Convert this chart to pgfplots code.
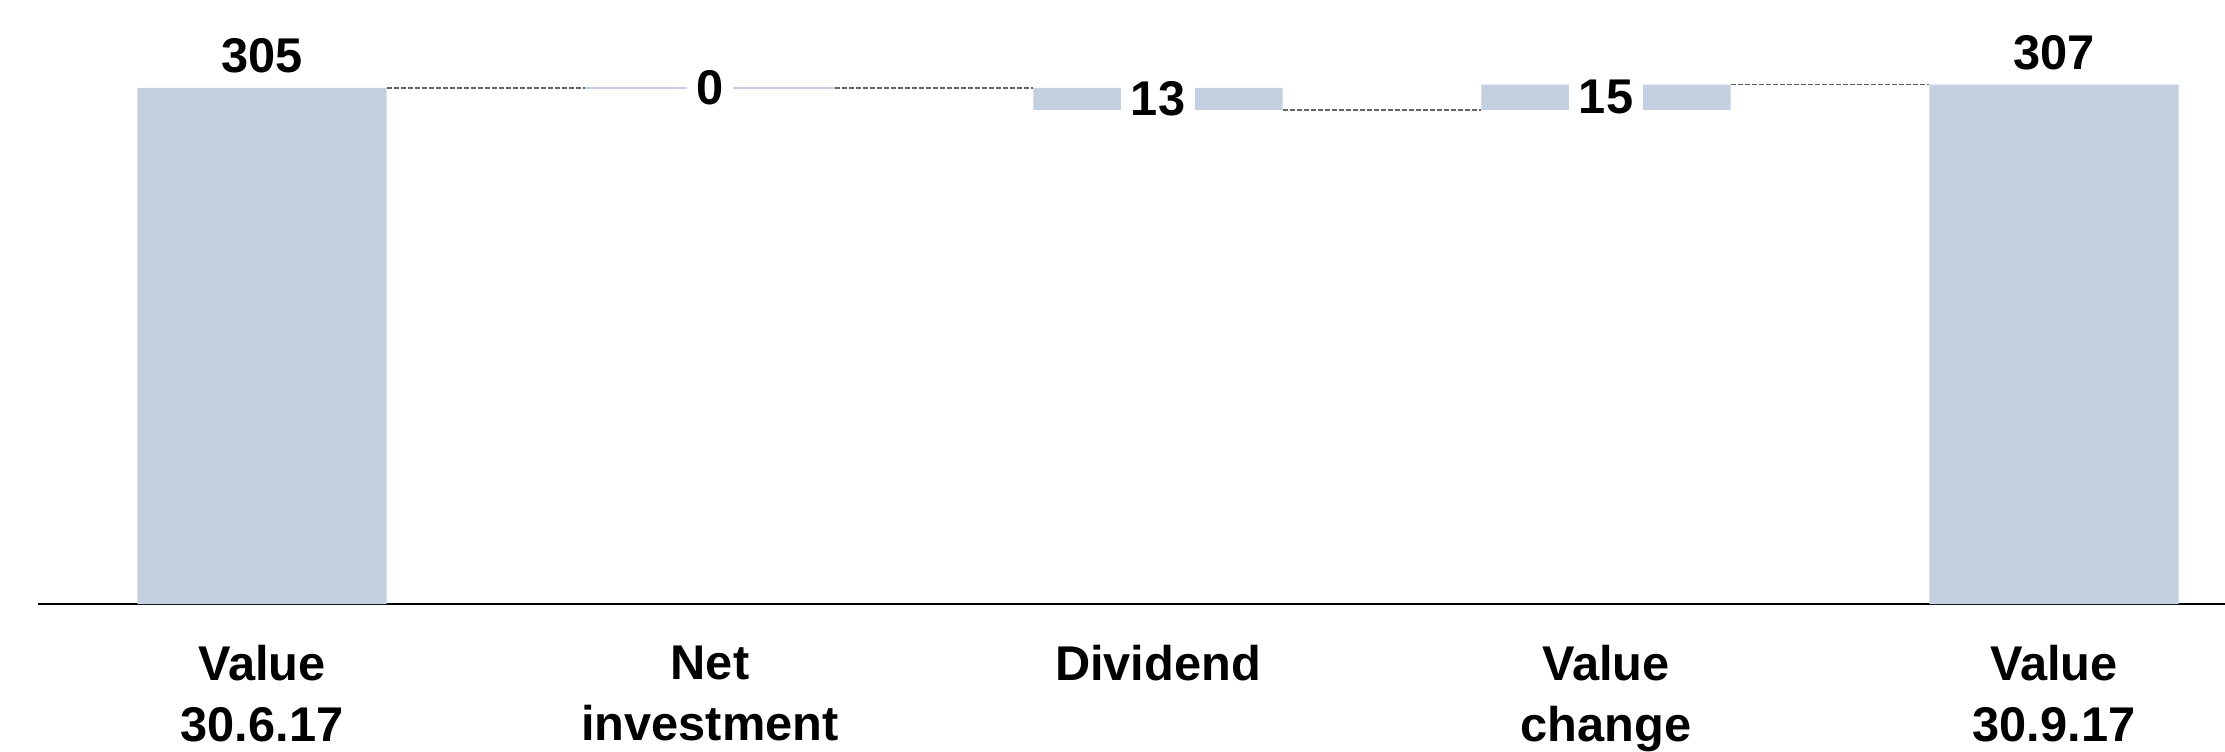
\documentclass[border=0pt]{standalone}
\usepackage{fontspec}
\setmainfont{Liberation Sans}
\usepackage{pgfplots}
\usepackage{pgfplotstable}
\pgfplotsset{compat=1.18}

\definecolor{barblue}{RGB}{196,208,225}
\definecolor{linkgray}{RGB}{100,100,100}

% Value bridge: invisible base + visible step
\pgfplotstableread{
x base delta
0 0   305
1 305 0
2 292 13
3 292 15
4 0   307
}\bridge

% Dashed links between neighbouring bars (running totals)
\pgfplotstableread{
x y
0.278 305
0.722 305
0.722 nan
1.278 305
1.722 305
1.722 nan
2.278 292
2.722 292
2.722 nan
3.278 307
3.722 307
}\links

\newcommand{\lblfont}{\fontsize{19.5}{24.4}\selectfont\bfseries}

\pgfplotsset{
  bridgeframe/.style={
    scale only axis, width=896pt, height=241.6pt,
    xmin=-0.5, xmax=4.5, ymin=0, ymax=357,
    at={(15.2pt,58.8pt)}, anchor=south west,
  },
}

\begin{document}
\begin{tikzpicture}
\begin{axis}[
  bridgeframe,
  ybar stacked, bar width=0.556,
  axis x line=bottom, axis y line=none,
  x axis line style={-, line width=0.8pt, black},
  every outer x axis line/.append style={-},
  xtick={0,1,2,3,4},
  xticklabels={{Value\\30.6.17},{Net\\investment},{Dividend},{Value\\change},{Value\\30.9.17}},
  xticklabel style={align=center, font=\lblfont, inner sep=0pt, anchor=north, yshift=-16.4pt},
  major tick length=0pt,
  ytick=\empty,
]
\addplot[draw=none, fill=none, forget plot] table[x=x, y=base] {\bridge};
\addplot[fill=barblue, draw=none] table[x=x, y=delta] {\bridge};
\end{axis}

\begin{axis}[bridgeframe, hide axis, /pgf/number format/assume math mode=true]
\addplot[linkgray, line width=0.5pt, dash pattern=on 2pt off 0.8pt, unbounded coords=jump] table[x=x, y=y] {\links};
% steps: a bar-wide stroke, so that a zero step still shows
\addplot[draw=none, mark=none, skip coords between index={0}{1}, skip coords between index={4}{5},
  error bars/.cd, x dir=both, x fixed=0.278, error mark=none,
  error bar style={barblue, line width=0.8pt}]
  table[x=x, y expr=\thisrow{base}+0.5*\thisrow{delta}] {\bridge};
% totals: value above the bar
\addplot[draw=none, mark=none, skip coords between index={1}{4},
  nodes near coords, point meta=explicit,
  every node near coord/.append style={anchor=base, inner sep=0pt, yshift=6.1pt, font=\lblfont, text=black}]
  table[x=x, y expr=\thisrow{base}+\thisrow{delta}, meta=delta] {\bridge};
% steps: value centred on the bar, on a white patch
\addplot[draw=none, mark=none, skip coords between index={0}{1}, skip coords between index={4}{5},
  nodes near coords, point meta=explicit,
  every node near coord/.append style={anchor=center, inner xsep=3.8pt, inner ysep=0pt, fill=white, font=\lblfont, text=black}]
  table[x=x, y expr=\thisrow{base}+0.5*\thisrow{delta}, meta=delta] {\bridge};
\end{axis}
\pgfresetboundingbox
\path[use as bounding box] (0,0) rectangle (890pt,300.4pt);
\end{tikzpicture}
\end{document}
